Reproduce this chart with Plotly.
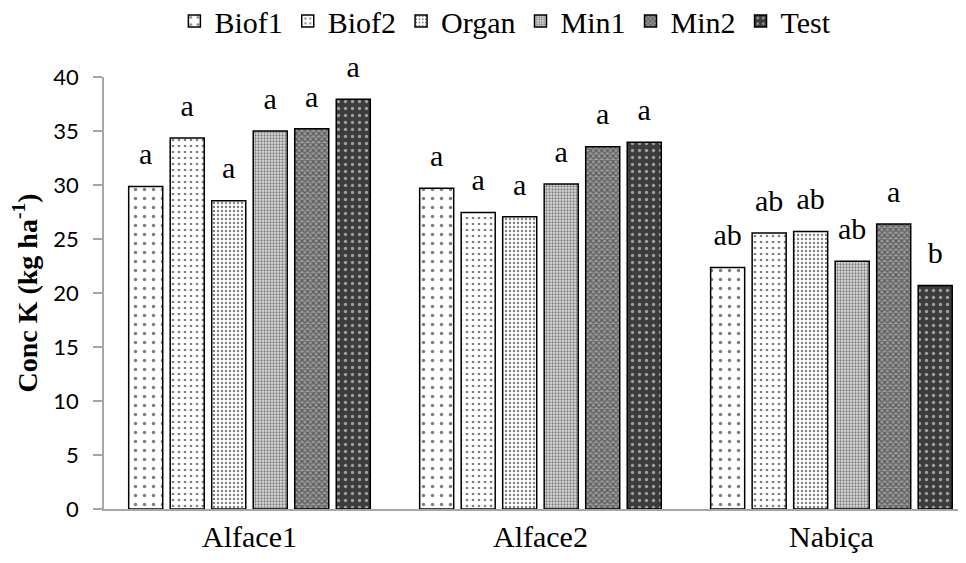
import plotly.graph_objects as go

categories = ["Alface1", "Alface2", "Nabiça"]
series_names = ["Biof1", "Biof2", "Organ", "Min1", "Min2", "Test"]
biof1 = [29.85, 29.7, 22.35]
biof2 = [34.35, 27.45, 25.55]
organ = [28.55, 27.05, 25.7]
min1 = [35.0, 30.1, 22.95]
min2 = [35.2, 33.55, 26.4]
test = [37.95, 33.95, 20.7]
letters_biof1 = ["a", "a", "ab"]
letters_biof2 = ["a", "a", "ab"]
letters_organ = ["a", "a", "ab"]
letters_min1 = ["a", "a", "ab"]
letters_min2 = ["a", "a", "a"]
letters_test = ["a", "a", "b"]
y_ticks = [0, 5, 10, 15, 20, 25, 30, 35, 40]

values = [biof1, biof2, organ, min1, min2, test]
letters = [letters_biof1, letters_biof2, letters_organ, letters_min1, letters_min2, letters_test]

patterns = [
    dict(shape=".", size=9, solidity=0.12, fgcolor="#000000", bgcolor="#ffffff"),
    dict(shape=".", size=6, solidity=0.16, fgcolor="#000000", bgcolor="#ffffff"),
    dict(shape=".", size=4, solidity=0.28, fgcolor="#000000", bgcolor="#ffffff"),
    dict(shape=".", size=3, solidity=0.45, fgcolor="#222222", bgcolor="#dddddd"),
    dict(shape="x", size=4, solidity=0.5, fgcolor="#1a1a1a", bgcolor="#9a9a9a"),
    dict(shape=".", size=7, solidity=0.18, fgcolor="#ffffff", bgcolor="#3c3c3c"),
]

SERIF = "Liberation Serif"

fig = go.Figure()
for name, vals, pat in zip(series_names, values, patterns):
    fig.add_trace(go.Bar(
        name=name, x=categories, y=vals,
        marker=dict(color="#ffffff", pattern=pat,
                    line=dict(color="#000000", width=1.5)),
        offsetgroup=name,
    ))

for name, vals, lab in zip(series_names, values, letters):
    fig.add_trace(go.Scatter(
        x=categories, y=vals, text=lab, mode="markers+text",
        textposition="top center", showlegend=False, hoverinfo="skip",
        marker=dict(size=22, color="rgba(0,0,0,0)"),
        textfont=dict(family=SERIF, size=30, color="#000000"),
        cliponaxis=False, offsetgroup=name,
    ))

fig.update_layout(
    width=950, height=547,
    margin=dict(l=96, r=0, t=69, b=46, autoexpand=False),
    paper_bgcolor="#ffffff", plot_bgcolor="#ffffff",
    barmode="group", bargap=0.144, bargroupgap=0.18,
    scattermode="group", scattergap=0.144,
    showlegend=True,
    legend=dict(orientation="h", x=0.47, xanchor="center",
                yref="paper", y=1.19, yanchor="top",
                font=dict(family=SERIF, size=30, color="#000000"),
                itemwidth=30, tracegroupgap=0, bgcolor="rgba(0,0,0,0)"),
    xaxis=dict(range=[-0.5, 2.435], showline=True, linecolor="#a6a6a6", linewidth=1.5,
               ticks="", tickfont=dict(family=SERIF, size=30, color="#000000"),
               showgrid=False, zeroline=False),
    yaxis=dict(range=[0, 40], tickvals=y_ticks, showline=True, linecolor="#a6a6a6",
               linewidth=1.5, ticks="outside", ticklen=9, tickcolor="#a6a6a6", tickwidth=1.5,
               tickfont=dict(family="Lato", size=22, color="#000000"), ticklabelstandoff=10,
               showgrid=False, zeroline=False,
               title=dict(text="<b>Conc K (kg ha<sup>-1</sup>)</b>",
                          font=dict(family=SERIF, size=28, color="#000000"), standoff=10)),
)

fig.write_html("out.html")
